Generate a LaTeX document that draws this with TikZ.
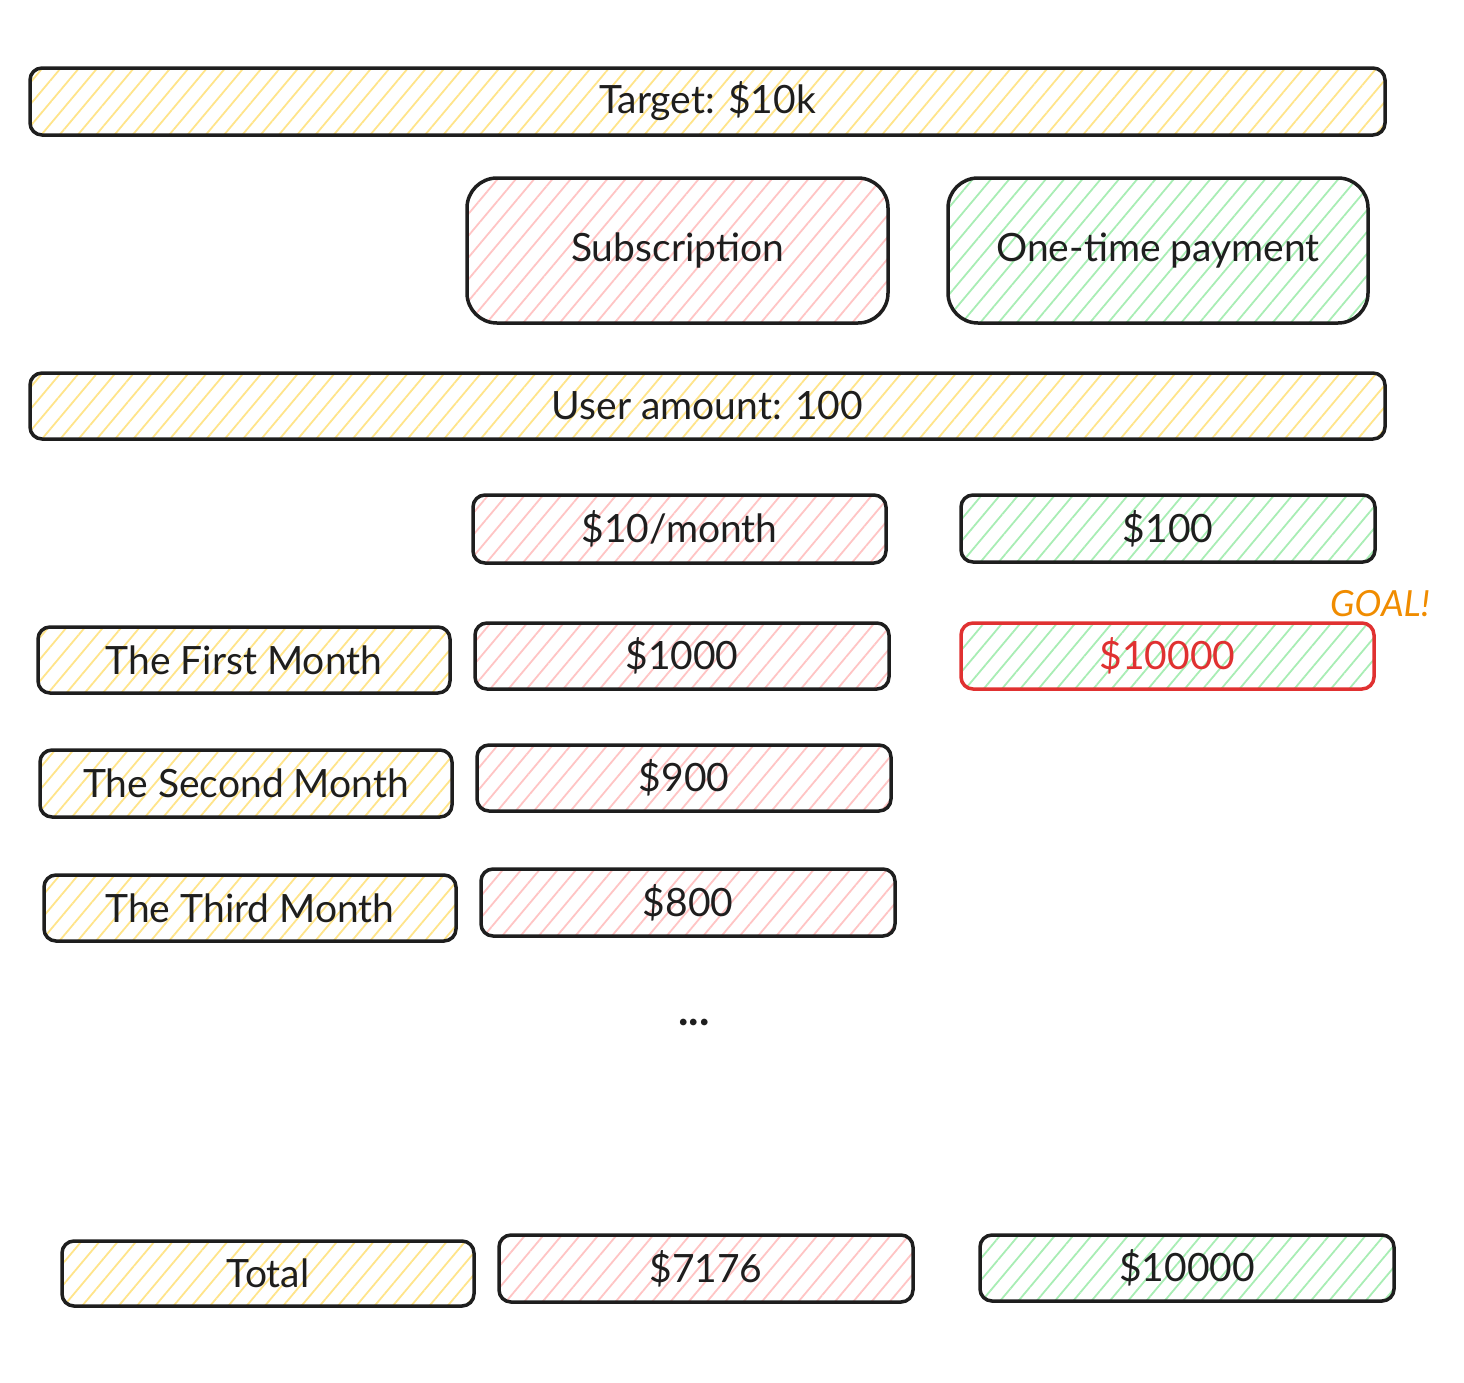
\documentclass[tikz,border=0pt]{standalone}
\usepackage{fontspec}
\setmainfont{Lato}
\usetikzlibrary{patterns.meta}
\definecolor{ink}{HTML}{1E1E1E}
\definecolor{hyel}{HTML}{FFE48A}
\definecolor{hred}{HTML}{FFC4C4}
\definecolor{hgrn}{HTML}{A8EDB4}
\definecolor{redline}{HTML}{E03131}
\definecolor{goalc}{HTML}{F08C00}
\tikzset{
  box/.style={draw=ink, line width=3.5pt, rounded corners=12pt, font=\fontsize{39}{44}\selectfont, text=ink,
     pattern={Lines[angle=50,distance=14pt,line width=1.8pt]}},
  ybox/.style={box, pattern color=hyel},
  rbox/.style={box, pattern color=hred},
  gbox/.style={box, pattern color=hgrn},
}
\begin{document}
\begin{tikzpicture}[x=1pt,y=-1pt]
\useasboundingbox (0,0) rectangle (1464,1382);
\node[ybox, minimum width=1355pt, minimum height=67pt] (target) at (707.5,101.5) {Target: \$10k};
\node[rbox, rounded corners=30pt, minimum width=421pt, minimum height=145pt] (sub) at (677.5,250.5) {Subscription};
\node[gbox, rounded corners=30pt, minimum width=420pt, minimum height=145pt] (one) at (1158,250.5) {One-time payment};
\node[ybox, minimum width=1355pt, minimum height=66pt] (user) at (707.5,406) {User amount: 100};
\node[rbox, minimum width=413pt, minimum height=68pt] (month) at (679.5,529) {\$10/month};
\node[gbox, minimum width=414pt, minimum height=67pt] (hundred) at (1168,528.5) {\$100};
\node[ybox, minimum width=412pt, minimum height=66pt] (first) at (244,660) {The First Month};
\node[rbox, minimum width=414pt, minimum height=66pt] (m1) at (682,656) {\$1000};
\node[gbox, draw=redline, text=redline, minimum width=413pt, minimum height=66pt] (goalbox) at (1167.5,656) {\$10000};
\node[text=goalc, font=\fontsize{36}{40}\selectfont\itshape, anchor=center] (goal) at (1380,604) {GOAL!};
\node[ybox, minimum width=412pt, minimum height=67pt] (second) at (246,783.5) {The Second Month};
\node[rbox, minimum width=414pt, minimum height=66pt] (m2) at (684,778) {\$900};
\node[ybox, minimum width=412pt, minimum height=66pt] (third) at (250,908) {The Third Month};
\node[rbox, minimum width=414pt, minimum height=67pt] (m3) at (688,902.5) {\$800};
\node[text=ink, font=\fontsize{44}{48}\selectfont\bfseries, anchor=base] (dots) at (694,1025) {...};
\node[ybox, minimum width=412pt, minimum height=65pt] (total) at (268,1273.5) {Total};
\node[rbox, minimum width=414pt, minimum height=67pt] (tsub) at (706,1268.5) {\$7176};
\node[gbox, minimum width=414pt, minimum height=66pt] (tone) at (1187,1268) {\$10000};
\end{tikzpicture}
\end{document}
